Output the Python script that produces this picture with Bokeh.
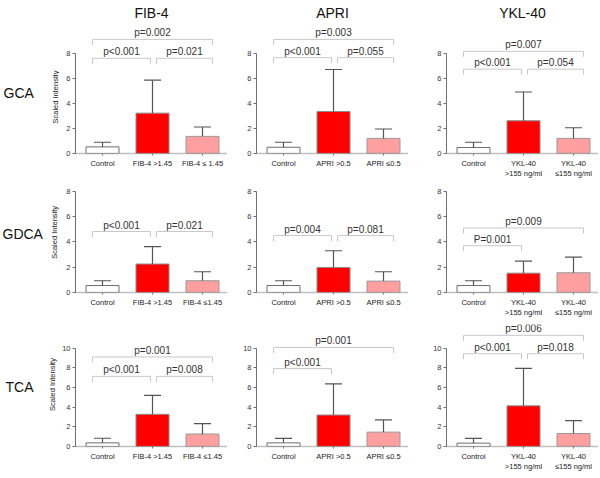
import math
from bokeh.plotting import figure
from bokeh.layouts import gridplot
from bokeh.models import FixedTicker, Range1d, Title
from bokeh.embed import file_html
from bokeh.resources import INLINE
from bokeh.core.properties import value

FONT = "Liberation Sans"

# ---------------- data ----------------
row_names = ["GCA", "GDCA", "TCA"]
col_names = ["FIB-4", "APRI", "YKL-40"]
y_title = "Scaled Intensity"

x_pos = [0, 1, 2]

labels_fib_r1 = ["Control", "FIB-4 >1.45", "FIB-4 \u2264 1.45"]
labels_fib = ["Control", "FIB-4 >1.45", "FIB-4 \u22641.45"]
labels_apri = ["Control", "APRI >0.5", "APRI \u22640.5"]
labels_ykl = ["Control", "YKL-40\n>155 ng/ml", "YKL-40\n\u2264155 ng/ml"]

y_ticks_r12 = [0, 2, 4, 6, 8]
y_ticks_r3 = [0, 2, 4, 6, 8, 10]

# means and upper error (mean + SD)
gca_fib_mean = [0.53, 3.23, 1.37]
gca_fib_upper = [0.90, 5.87, 2.12]
gca_apri_mean = [0.50, 3.36, 1.21]
gca_apri_upper = [0.90, 6.72, 1.96]
gca_ykl_mean = [0.48, 2.62, 1.21]
gca_ykl_upper = [0.90, 4.92, 2.06]

gdca_fib_mean = [0.55, 2.25, 0.93]
gdca_fib_upper = [0.93, 3.63, 1.64]
gdca_apri_mean = [0.55, 1.98, 0.90]
gdca_apri_upper = [0.93, 3.30, 1.64]
gdca_ykl_mean = [0.55, 1.53, 1.56]
gdca_ykl_upper = [0.93, 2.48, 2.80]

tca_fib_mean = [0.37, 3.27, 1.27]
tca_fib_upper = [0.84, 5.20, 2.33]
tca_apri_mean = [0.37, 3.20, 1.46]
tca_apri_upper = [0.82, 6.37, 2.70]
tca_ykl_mean = [0.34, 4.13, 1.32]
tca_ykl_upper = [0.82, 7.95, 2.64]

# significance brackets: (from group, to group, height, label)
gca_fib_sig = [(0, 1, 7.62, "p<0.001"), (1, 2, 7.62, "p=0.021"), (0, 2, 9.13, "p=0.002")]
gca_apri_sig = [(0, 1, 7.67, "p<0.001"), (1, 2, 7.67, "p=0.055"), (0, 2, 9.13, "p=0.003")]
gca_ykl_sig = [(0, 1, 6.75, "p<0.001"), (1, 2, 6.75, "p=0.054"), (0, 2, 8.17, "p=0.007")]
gdca_fib_sig = [(0, 1, 4.82, "p<0.001"), (1, 2, 4.82, "p=0.021")]
gdca_apri_sig = [(0, 1, 4.5, "p=0.004"), (1, 2, 4.5, "p=0.081")]
gdca_ykl_sig = [(0, 1, 3.7, "P=0.001"), (0, 2, 5.1, "p=0.009")]
tca_fib_sig = [(0, 1, 7.13, "p<0.001"), (1, 2, 7.13, "p=0.008"), (0, 2, 9.1, "p=0.001")]
tca_apri_sig = [(0, 1, 7.92, "p<0.001"), (0, 2, 10.07, "p=0.001")]
tca_ykl_sig = [(0, 1, 9.43, "p<0.001"), (1, 2, 9.43, "p=0.018"), (0, 2, 11.3, "p=0.006")]

panels = [
    [(gca_fib_mean, gca_fib_upper, gca_fib_sig, labels_fib_r1),
     (gca_apri_mean, gca_apri_upper, gca_apri_sig, labels_apri),
     (gca_ykl_mean, gca_ykl_upper, gca_ykl_sig, labels_ykl)],
    [(gdca_fib_mean, gdca_fib_upper, gdca_fib_sig, labels_fib),
     (gdca_apri_mean, gdca_apri_upper, gdca_apri_sig, labels_apri),
     (gdca_ykl_mean, gdca_ykl_upper, gdca_ykl_sig, labels_ykl)],
    [(tca_fib_mean, tca_fib_upper, tca_fib_sig, labels_fib),
     (tca_apri_mean, tca_apri_upper, tca_apri_sig, labels_apri),
     (tca_ykl_mean, tca_ykl_upper, tca_ykl_sig, labels_ykl)],
]
row_ticks = [y_ticks_r12, y_ticks_r12, y_ticks_r3]

# ---------------- layout / style ----------------
bar_colors = ["#ffffff", "#ff0000", "#ff9f9f"]
bar_lines = ["#6e6e6e", "#8c8c8c", "#9a9a9a"]
BAR_W = 0.66
CAP_HALF = 0.17

FRAME_W = 152
X_START, X_END = -0.54, 2.5
FRAME_H = [130, 105, 122]
Y_END = [10.4, 8.3, 12.4]
BT = [23, 5, 3]
BB = [29, 29, 29]
BL = [13, 26, 35]
BR = [3, 3, 4]
TITLE_DX = [2, -1, -7]
NAME_W = 59
NAME_X = [3, 2, 5]              # row names, px from left of strip
NAME_FROM_TOP = [97, 62, 79]    # row names, px from top of their strip
YTITLE_X = [55, 54, 52]         # rotated y title centre, px from left of strip


def bracket_ends(i, j):
    x0 = i - 0.2 if i == 0 else i + 0.08
    x1 = j + 0.2 if j == 2 else j - 0.04
    return x0, x1


def row_height(r):
    return BT[r] + FRAME_H[r] + BB[r]


def make_name(r):
    h = row_height(r)
    ticks = row_ticks[r]
    ppu = FRAME_H[r] / Y_END[r]
    p = figure(width=NAME_W, height=h, x_range=Range1d(0, NAME_W), y_range=Range1d(0, h),
               output_backend="svg", toolbar_location=None,
               x_axis_location=None, y_axis_location=None,
               min_border_left=0, min_border_right=0, min_border_top=0, min_border_bottom=0)
    p.xgrid.visible = False
    p.ygrid.visible = False
    p.outline_line_color = None
    p.border_fill_color = "white"
    p.background_fill_color = "white"
    p.text(x=[NAME_X[r]], y=[h - NAME_FROM_TOP[r]], text=[row_names[r]], text_font=value(FONT),
           text_font_size="14px", text_align="left", text_baseline="middle",
           text_color="#111111")
    # y-axis title, centred on the axis extent of the neighbouring panel
    y_mid = BB[r] + (ticks[0] + ticks[-1]) / 2 * ppu
    p.text(x=[YTITLE_X[r]], y=[y_mid], text=[y_title], angle=math.pi / 2,
           text_font=value(FONT), text_font_size="7.5px", text_align="center",
           text_baseline="middle", text_color="#222222")
    return p


def make_panel(r, c):
    mean, upper, sig, labels = panels[r][c]
    ticks = row_ticks[r]
    ppu = FRAME_H[r] / Y_END[r]
    p = figure(frame_width=FRAME_W, frame_height=FRAME_H[r],
               x_range=Range1d(X_START, X_END), y_range=Range1d(0, Y_END[r]),
               output_backend="svg", toolbar_location=None,
               min_border_left=BL[c], min_border_right=BR[c],
               min_border_top=BT[r], min_border_bottom=BB[r])
    p.outline_line_color = None
    p.xgrid.visible = False
    p.ygrid.visible = False
    p.background_fill_color = "white"
    p.border_fill_color = "white"

    # bars
    p.vbar(x=x_pos, top=mean, bottom=0, width=BAR_W, fill_color=bar_colors,
           line_color=bar_lines, line_width=1)
    # error bars (upper only)
    p.segment(x0=x_pos, y0=mean, x1=x_pos, y1=upper, line_color="#555555", line_width=1.2)
    p.segment(x0=[x - CAP_HALF for x in x_pos], y0=upper,
              x1=[x + CAP_HALF for x in x_pos], y1=upper,
              line_color="#555555", line_width=1.2)

    # brackets
    leg = 5.5 / ppu
    toff = 6.5 / ppu
    xs, ys, tx, ty, tt = [], [], [], [], []
    for (i, j, h, lab) in sig:
        x0, x1 = bracket_ends(i, j)
        xs.append([x0, x0, x1, x1])
        ys.append([h - leg, h, h, h - leg])
        tx.append((x0 + x1) / 2)
        ty.append(h + toff)
        tt.append(lab)
    p.multi_line(xs=xs, ys=ys, line_color="#c8c8c8", line_width=1)
    p.text(x=tx, y=ty, text=tt, text_font=value(FONT), text_font_size="10px",
           text_align="center", text_baseline="middle", text_color="#333333")

    # x axis
    xa = p.xaxis[0]
    xa.ticker = FixedTicker(ticks=x_pos)
    xa.major_label_overrides = {x_pos[k]: labels[k] for k in range(3)}
    xa.major_label_text_font = FONT
    xa.major_label_text_font_size = "7.5px"
    xa.major_label_text_color = "#222222"
    xa.major_label_standoff = 3
    xa.axis_line_color = "#808080"
    xa.axis_line_dash = "1 1"
    xa.axis_line_width = 1.6
    xa.major_tick_out = 2
    xa.major_tick_in = 0
    xa.major_tick_line_color = "#777777"
    xa.minor_tick_line_color = None

    # y axis
    ya = p.yaxis[0]
    ya.ticker = FixedTicker(ticks=ticks)
    ya.bounds = (ticks[0], ticks[-1])
    ya.axis_line_color = "#707070"
    ya.major_tick_out = 3
    ya.major_tick_in = 0
    ya.major_tick_line_color = "#707070"
    ya.minor_tick_line_color = None
    ya.major_label_text_font = FONT
    ya.major_label_text_font_size = "7.5px"
    ya.major_label_text_color = "#333333"
    ya.major_label_standoff = 2

    if r == 0:
        p.title = Title(text=col_names[c], align="center", offset=TITLE_DX[c], standoff=5,
                        text_font=FONT, text_font_size="14px", text_font_style="normal",
                        text_color="#111111")
    return p


grid = gridplot([[make_name(r)] + [make_panel(r, c) for c in range(3)] for r in range(3)],
                toolbar_location=None)

open("out.html", "w").write(file_html(grid, INLINE))
